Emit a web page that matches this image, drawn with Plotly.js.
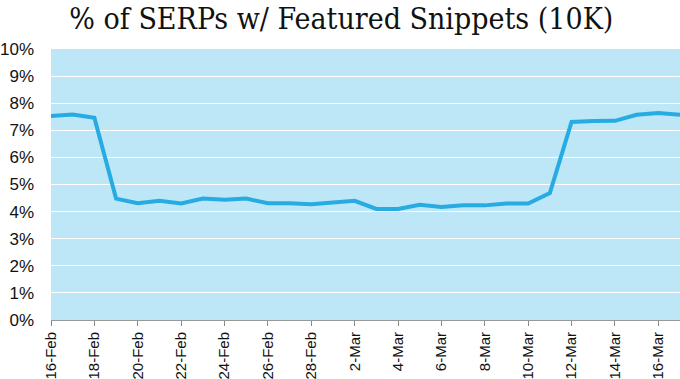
<!DOCTYPE html>
<html>
<head>
<meta charset="utf-8">
<script src="https://cdn.plot.ly/plotly-3.0.1.min.js"></script>
<style>html,body{margin:0;padding:0;background:#fff;}#chart{width:680px;height:379px;}</style>
</head>
<body>
<div id="chart"></div>
<script>
const dates = ["2019-02-16","2019-02-17","2019-02-18","2019-02-19","2019-02-20","2019-02-21","2019-02-22","2019-02-23","2019-02-24","2019-02-25","2019-02-26","2019-02-27","2019-02-28","2019-03-01","2019-03-02","2019-03-03","2019-03-04","2019-03-05","2019-03-06","2019-03-07","2019-03-08","2019-03-09","2019-03-10","2019-03-11","2019-03-12","2019-03-13","2019-03-14","2019-03-15","2019-03-16","2019-03-17"];
const snippetShare = [0.0753,0.0758,0.0746,0.0448,0.0431,0.0440,0.0430,0.0448,0.0444,0.0448,0.0431,0.0431,0.0427,0.0435,0.0440,0.0410,0.0410,0.0425,0.0417,0.0423,0.0423,0.0430,0.0430,0.0468,0.0731,0.0734,0.0735,0.0757,0.0764,0.0757];
const titleText = "% of SERPs w/ Featured Snippets (10K)";

Plotly.newPlot("chart", [{
  x: dates, y: snippetShare, type: "scatter", mode: "lines",
  line: {color: "#26abe3", width: 4}, hoverinfo: "skip"
}], {
  width: 680, height: 379,
  margin: {l: 51, r: 0, t: 49, b: 59, pad: 0},
  paper_bgcolor: "#ffffff", plot_bgcolor: "#bde6f6",
  showlegend: false,
  title: {text: titleText, xref: "container", x: 0.502, xanchor: "center", yref: "container", y: 0.95, yanchor: "middle",
          font: {family: "DejaVu Serif Condensed, DejaVu Serif, serif", size: 30, color: "#111"}},
  xaxis: {
    type: "date", range: ["2019-02-16", "2019-03-17"],
    tick0: "2019-02-16", dtick: 2*86400000, tickformat: "%-d-%b",
    tickangle: -90, ticks: "outside", ticklen: 5, tickcolor: "#888", tickwidth: 1,
    showline: true, linecolor: "#999", linewidth: 1,
    showgrid: false, zeroline: false, automargin: false,
    tickfont: {family: "Liberation Sans, Arial, sans-serif", size: 15, color: "#111"}
  },
  yaxis: {
    range: [0, 0.1], dtick: 0.01, tickformat: ".0%",
    showgrid: true, gridcolor: "#ffffff", gridwidth: 1.2,
    zeroline: false, showline: false, ticks: "", ticklabelstandoff: 16, automargin: false,
    tickfont: {family: "Liberation Sans, Arial, sans-serif", size: 17, color: "#111"}
  }
}, {displayModeBar: false, staticPlot: true});
</script>
</body>
</html>
